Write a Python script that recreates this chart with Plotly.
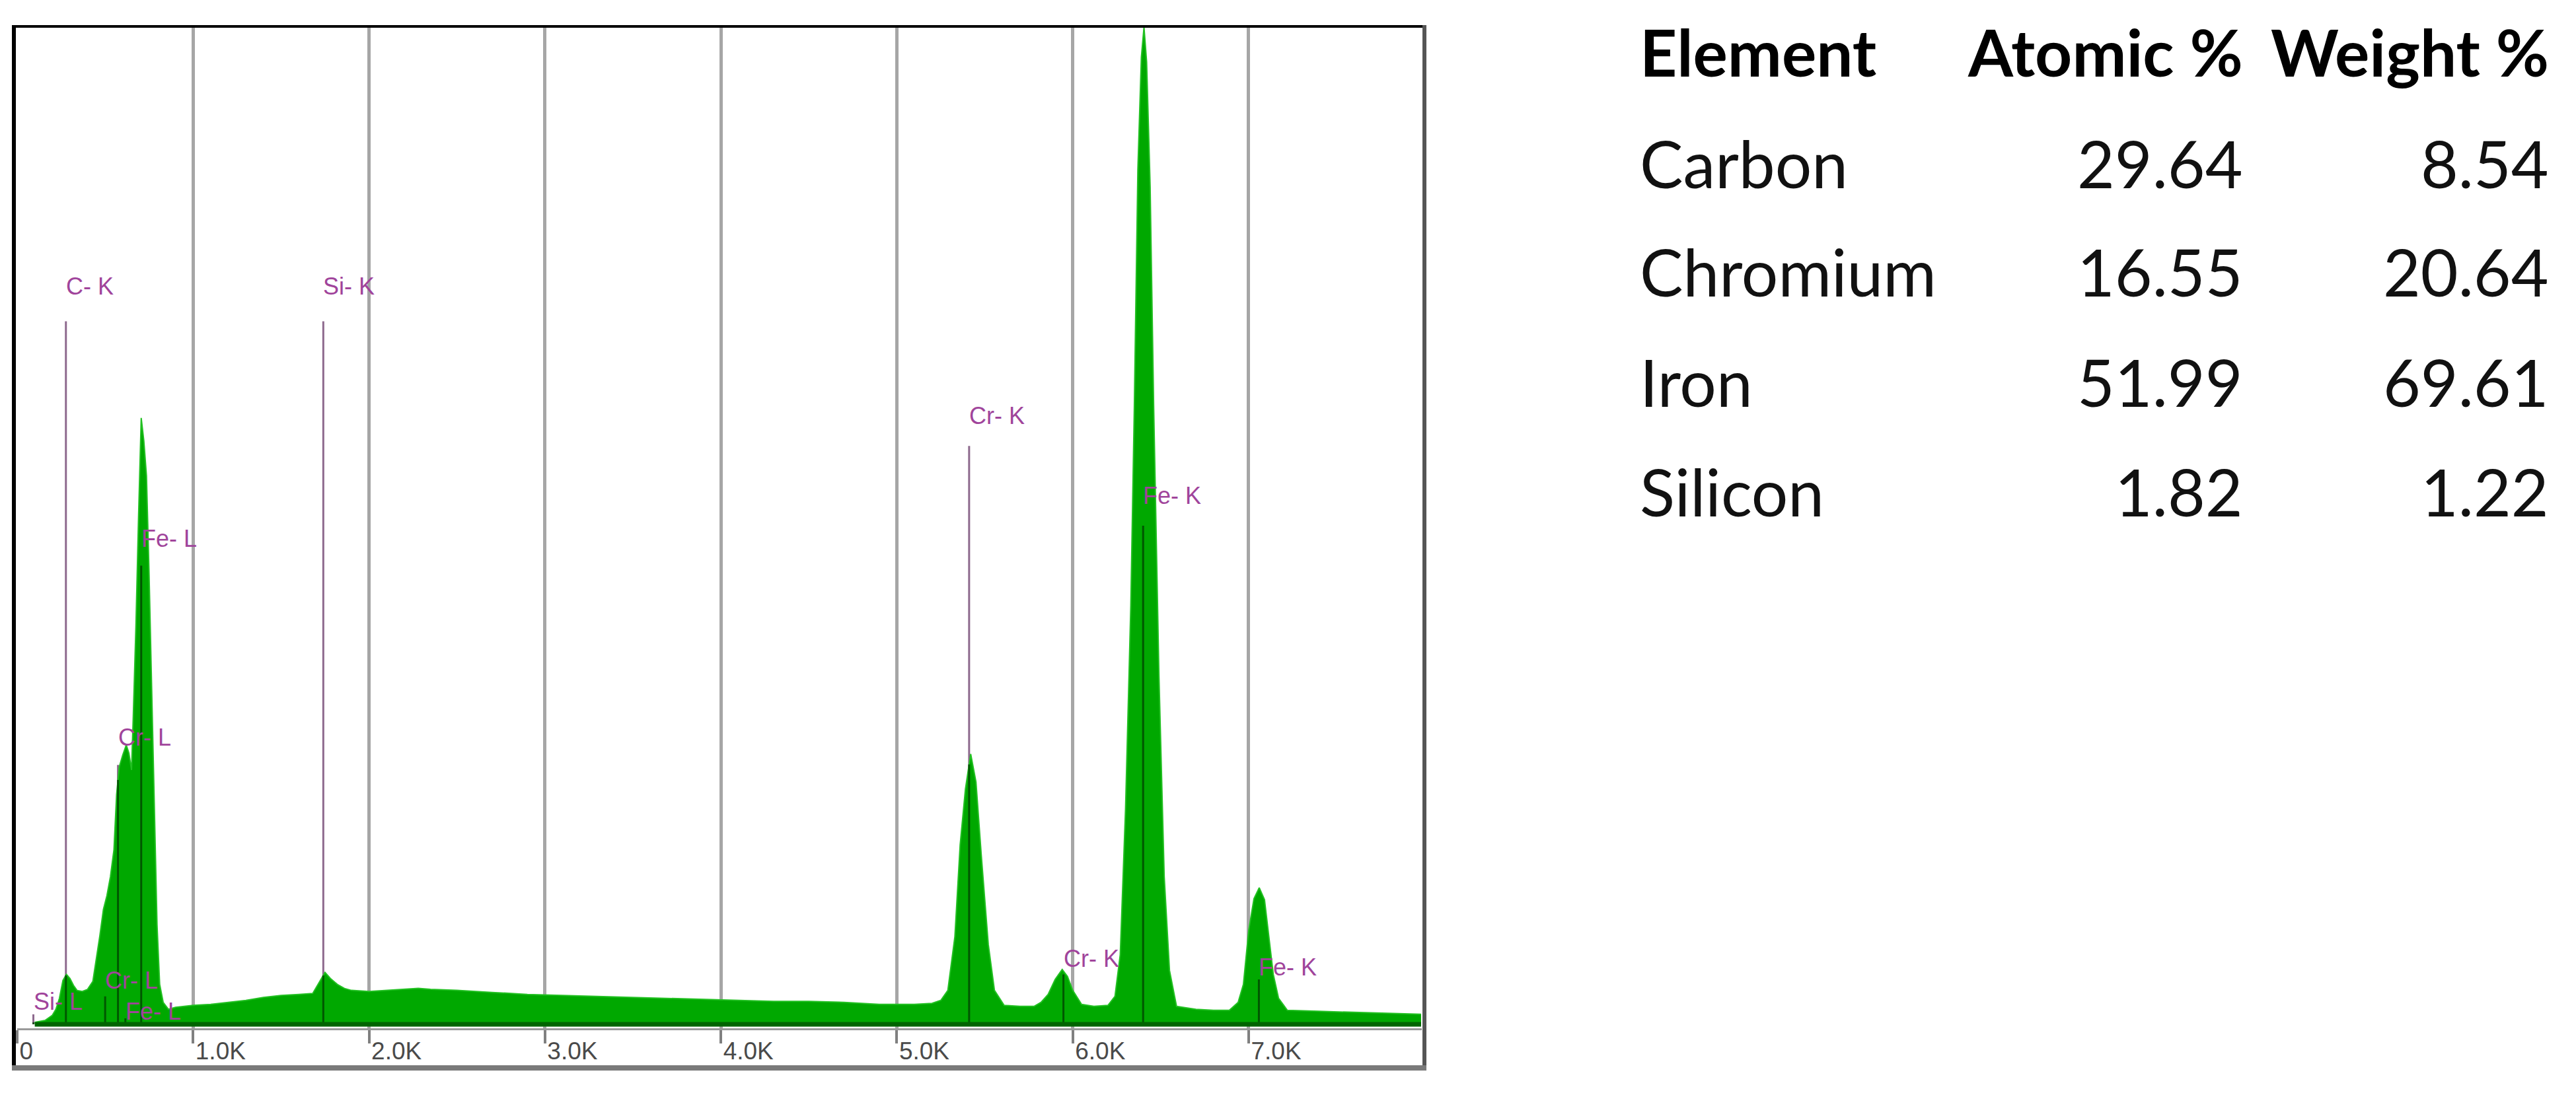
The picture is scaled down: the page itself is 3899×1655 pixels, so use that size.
import numpy as np
import plotly.graph_objects as go

# EDS spectrum: energy in keV, counts in % of full scale
energy = [
    0.10, 0.16, 0.20, 0.22, 0.24, 0.26, 0.28, 0.30, 0.32, 0.34, 0.37, 0.40,
    0.43, 0.45, 0.47, 0.49, 0.51, 0.53, 0.55, 0.565, 0.58, 0.60, 0.62, 0.635,
    0.65, 0.66, 0.675, 0.69, 0.705, 0.72, 0.735, 0.75, 0.765, 0.78, 0.795,
    0.81, 0.83, 0.86, 0.90, 0.95, 1.00, 1.10, 1.20, 1.30, 1.40, 1.50, 1.60,
    1.68, 1.72, 1.75, 1.78, 1.82, 1.86, 1.90, 2.00, 2.10, 2.20, 2.28, 2.35,
    2.50, 2.70, 2.90, 3.10, 3.30, 3.50, 3.70, 3.90, 4.10, 4.30, 4.50, 4.70,
    4.90, 5.10, 5.20, 5.25, 5.29, 5.33, 5.36, 5.39, 5.42, 5.45, 5.48, 5.52,
    5.555, 5.61, 5.70, 5.78, 5.82, 5.86, 5.90, 5.94, 5.97, 6.00, 6.05, 6.12,
    6.20, 6.24, 6.27, 6.30, 6.33, 6.35, 6.37, 6.39, 6.405, 6.42, 6.44, 6.46,
    6.49, 6.52, 6.55, 6.59, 6.70, 6.80, 6.89, 6.94, 6.97, 7.00, 7.03, 7.06,
    7.09, 7.11, 7.14, 7.17, 7.22, 7.40, 7.60, 7.80, 7.98,
]
counts = [
    0.2, 0.4, 0.9, 1.5, 2.6, 4.4, 5.0, 4.6, 3.9, 3.4, 3.3, 3.5,
    4.3, 6.5, 8.9, 11.5, 12.9, 14.8, 17.5, 23.0, 25.8, 27.0, 28.0, 27.2,
    25.5, 31.0, 40.0, 51.0, 60.8, 58.5, 55.0, 45.0, 33.0, 21.5, 10.0,
    4.0, 2.2, 1.5, 1.7, 1.8, 1.9, 2.0, 2.2, 2.4, 2.7, 2.9, 3.0,
    3.1, 4.3, 5.2, 4.6, 4.0, 3.6, 3.4, 3.3, 3.4, 3.5, 3.6, 3.5,
    3.4, 3.2, 3.0, 2.9, 2.8, 2.7, 2.6, 2.5, 2.4, 2.3, 2.3, 2.2,
    2.0, 2.0, 2.1, 2.4, 3.4, 8.8, 18.0, 23.6, 27.1, 24.3, 17.0, 8.0,
    3.4, 1.9, 1.8, 1.8, 2.2, 3.0, 4.5, 5.5, 4.8, 3.4, 2.0, 1.8,
    1.9, 2.8, 7.0, 21.6, 42.0, 62.0, 85.7, 97.0, 100.0, 96.5, 84.0, 62.0,
    35.0, 14.8, 5.4, 1.8, 1.5, 1.4, 1.4, 2.2, 4.0, 9.4, 12.6, 13.7,
    12.5, 9.4, 5.0, 2.6, 1.4, 1.3, 1.2, 1.1, 1.0,
]

# peak markers: label, line energy, marker top, label height
marker_names = ["Si- L", "C- K", "Cr- L", "Cr- L", "Fe- L", "Fe- L",
                "Si- K", "Cr- K", "Cr- K", "Fe- K", "Fe- K"]
marker_energy = [0.092, 0.277, 0.500, 0.573, 0.615, 0.705,
                 1.740, 5.411, 5.947, 6.400, 7.058]
marker_top = [1.0, 70.5, 2.8, 26.0, 0.6, 46.0, 70.5, 58.0, 5.0, 50.0, 4.5]
marker_label = [2.3, 74.0, 4.4, 28.8, 1.3, 48.7, 74.0, 61.0, 6.6, 53.0, 5.7]

tick_vals = [0, 1, 2, 3, 4, 5, 6, 7]
tick_text = ["0", "1.0K", "2.0K", "3.0K", "4.0K", "5.0K", "6.0K", "7.0K"]

# composition table
elements = ["Carbon", "Chromium", "Iron", "Silicon"]
atomic_pct = ["29.64", "16.55", "51.99", "1.82"]
weight_pct = ["8.54", "20.64", "69.61", "1.22"]

W, H = 3899, 1655
OFF = 8  # the page body margin


def px(x):
    return (x - OFF) / W


def py(y):
    return 1 - (y - OFF) / H


PLOT_L, PLOT_R, PLOT_T, PLOT_B = 26, 2152, 41, 1557
PURPLE_LINE = "#8e6a8e"
PURPLE_TEXT = "#a0449b"

fig = go.Figure()

# marker lines behind the spectrum
for e, top in zip(marker_energy, marker_top):
    fig.add_trace(go.Scatter(x=[e, e], y=[0, top], mode="lines",
                             line=dict(color=PURPLE_LINE, width=3),
                             hoverinfo="skip", showlegend=False))

fig.add_trace(go.Scatter(
    x=energy, y=counts, mode="lines", fill="tozeroy",
    fillcolor="#00a800", line=dict(color="#22c022", width=2),
    showlegend=False,
))

# the marker lines show dark where they cross the green fill
for e, top in zip(marker_energy, marker_top):
    inside = min(top, float(np.interp(e, energy, counts)))
    fig.add_trace(go.Scatter(x=[e, e], y=[0, inside], mode="lines",
                             line=dict(color="rgba(0,60,0,0.75)", width=3),
                             hoverinfo="skip", showlegend=False))

# dark band along the bottom of the spectrum
fig.add_trace(go.Scatter(x=[energy[0], energy[-1]], y=[0, 0], mode="lines",
                         line=dict(color="#006400", width=7),
                         hoverinfo="skip", showlegend=False))

for name, e, h in zip(marker_names, marker_energy, marker_label):
    fig.add_annotation(x=e, y=h, text=name, showarrow=False, xanchor="left",
                       yanchor="middle", xshift=-2,
                       font=dict(family="Liberation Sans", size=36, color=PURPLE_TEXT))

# frame around the spectrum panel
fig.add_shape(type="line", xref="paper", yref="paper", x0=px(21), x1=px(21),
              y0=py(38), y1=py(1620), line=dict(color="#000000", width=6))
fig.add_shape(type="line", xref="paper", yref="paper", x0=px(18), x1=px(2159),
              y0=py(40), y1=py(40), line=dict(color="#000000", width=4))
fig.add_shape(type="line", xref="paper", yref="paper", x0=px(2156), x1=px(2156),
              y0=py(38), y1=py(1620), line=dict(color="#555555", width=6))
fig.add_shape(type="line", xref="paper", yref="paper", x0=px(18), x1=px(2159),
              y0=py(1617), y1=py(1617), line=dict(color="#7a7a7a", width=8))

# composition table
font_t = "Lato, Noto Sans, sans-serif"
FS = 98
header_y = 78
row_y = [247, 411, 578, 744]
col_elem, col_atom, col_wt = 2480, 3397, 3860
fig.add_annotation(xref="paper", yref="paper", x=px(col_elem), y=py(header_y),
                   text="<b>Element</b>", showarrow=False, xanchor="left",
                   yanchor="middle", font=dict(family=font_t, size=FS, color="#000"))
fig.add_annotation(xref="paper", yref="paper", x=px(col_atom), y=py(header_y),
                   text="<b>Atomic %</b>", showarrow=False, xanchor="right",
                   yanchor="middle", font=dict(family=font_t, size=FS, color="#000"))
fig.add_annotation(xref="paper", yref="paper", x=px(col_wt), y=py(header_y),
                   text="<b>Weight %</b>", showarrow=False, xanchor="right",
                   yanchor="middle", font=dict(family=font_t, size=FS, color="#000"))
for el, a, w, y in zip(elements, atomic_pct, weight_pct, row_y):
    fig.add_annotation(xref="paper", yref="paper", x=px(col_elem), y=py(y),
                       text=el, showarrow=False, xanchor="left", yanchor="middle",
                       font=dict(family=font_t, size=FS, color="#111"))
    fig.add_annotation(xref="paper", yref="paper", x=px(col_atom), y=py(y),
                       text=a, showarrow=False, xanchor="right", yanchor="middle",
                       font=dict(family=font_t, size=FS, color="#111"))
    fig.add_annotation(xref="paper", yref="paper", x=px(col_wt), y=py(y),
                       text=w, showarrow=False, xanchor="right", yanchor="middle",
                       font=dict(family=font_t, size=FS, color="#111"))

fig.update_layout(
    width=W, height=H,
    margin=dict(l=0, r=0, t=0, b=0),
    paper_bgcolor="white", plot_bgcolor="white",
    xaxis=dict(
        domain=[px(PLOT_L), px(PLOT_R)], range=[0, 7.984],
        tickvals=tick_vals, ticktext=tick_text,
        ticklabelposition="outside right",
        ticks="outside", ticklen=20, tickwidth=4, tickcolor="#808080",
        showgrid=True, gridcolor="#a6a6a6", gridwidth=5,
        showline=True, linecolor="#9a9a9a", linewidth=3,
        zeroline=False,
        tickfont=dict(family="Liberation Sans", size=37, color="#4a4a4a"),
    ),
    yaxis=dict(
        domain=[py(PLOT_B), py(PLOT_T)], range=[-0.4, 100],
        showgrid=False, showticklabels=False, zeroline=False, showline=False,
        ticks="",
    ),
)

fig.write_html("out.html")
